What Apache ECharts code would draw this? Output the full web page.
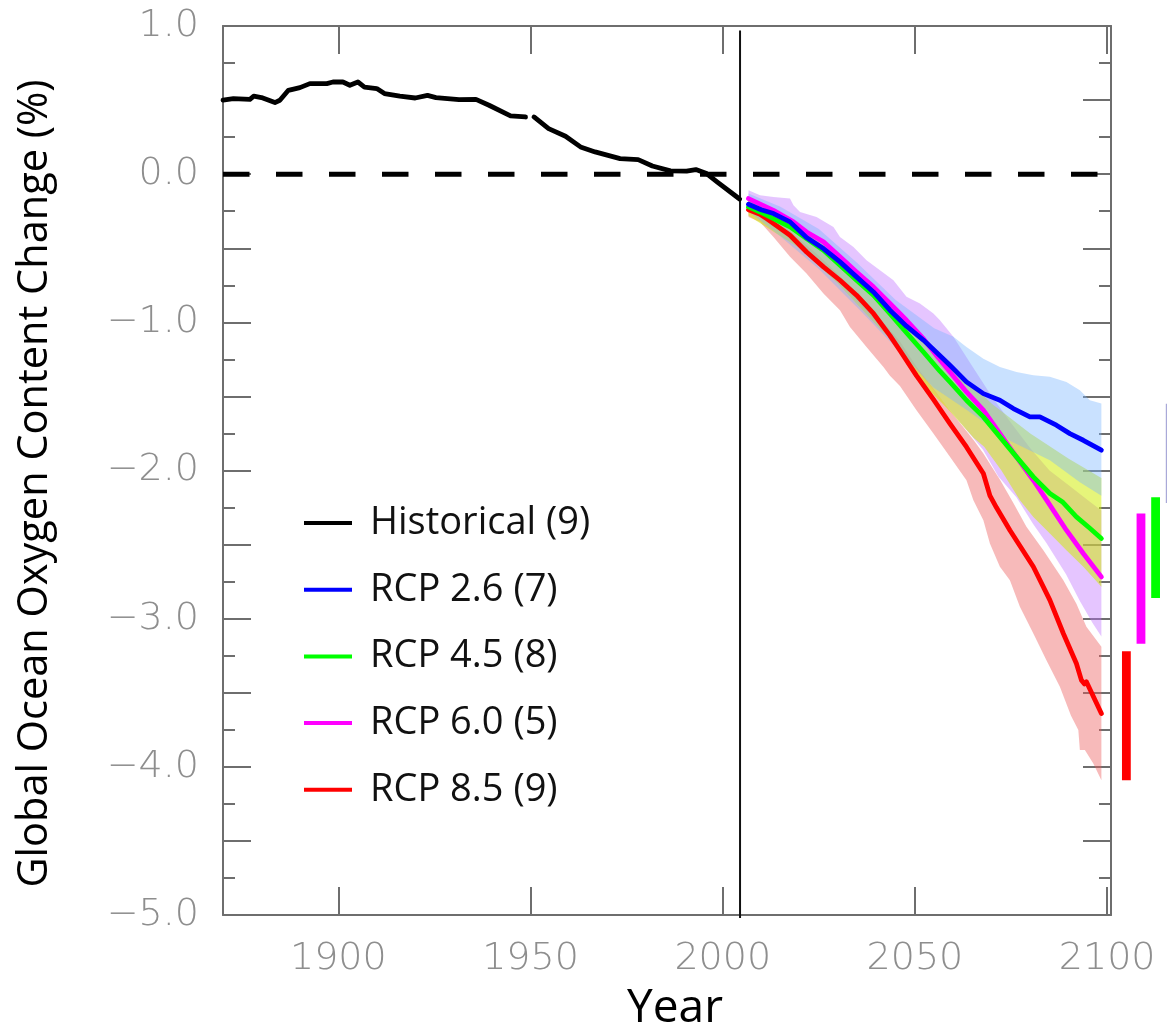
<!DOCTYPE html>
<html>
<head>
<meta charset="utf-8">
<title>Global Ocean Oxygen Content Change</title>
<script src="https://cdn.jsdelivr.net/npm/echarts@6/dist/echarts.min.js"></script>
<style>
  html, body { margin: 0; padding: 0; background: #ffffff; }
  #chart { width: 1167px; height: 1031px; }
</style>
</head>
<body>
<div id="chart"></div>
<script>
// ---- tick labels and legend entries ----
const yearTicks = [1900, 1950, 2000, 2050, 2100];
const legendNames = ['Historical (9)', 'RCP 2.6 (7)', 'RCP 4.5 (8)', 'RCP 6.0 (5)', 'RCP 8.5 (9)'];
const dividerYear = 2004.5;

// ---- multi-model mean, % change in global ocean O2 content ----
const historical = [
  [1870, 0.50], [1872.7, 0.51], [1877, 0.505], [1878, 0.526], [1880, 0.517], [1883.5, 0.483],
  [1884.8, 0.499], [1887, 0.566], [1890, 0.584], [1892.6, 0.611], [1897, 0.611], [1898.6, 0.622],
  [1901.2, 0.622], [1903, 0.60], [1905.1, 0.622], [1906.8, 0.588], [1910, 0.578], [1912, 0.544],
  [1916, 0.526], [1920, 0.514], [1923.2, 0.532], [1925.4, 0.517], [1931.4, 0.503], [1935.8, 0.505],
  [1939.2, 0.465], [1944.8, 0.393], [1948.7, 0.386], [1949.8, '-'], [1950.9, 0.386], [1954.7, 0.307],
  [1959.1, 0.256], [1963, 0.184], [1966.8, 0.15], [1973.3, 0.105], [1978, 0.098], [1981.7, 0.055],
  [1986.4, 0.022], [1990.6, 0.02], [1993, 0.031], [1995.8, 0.004], [1998.6, -0.053], [2003.7, -0.154],
  [2004.4, -0.168]
];
const rcp26 = [
  [2006.7, -0.203], [2010, -0.24], [2013.2, -0.266], [2017.5, -0.322], [2021.8, -0.428], [2026.2, -0.502],
  [2030.5, -0.592], [2034.8, -0.693], [2039.2, -0.795], [2043.5, -0.918], [2047.8, -1.026], [2052.2, -1.12],
  [2055.5, -1.2], [2059.1, -1.29], [2063.4, -1.402], [2067.8, -1.481], [2072.1, -1.526], [2075.6, -1.582],
  [2079.9, -1.638], [2082.5, -1.638], [2086.8, -1.694], [2090.3, -1.751], [2093.8, -1.796], [2098.5, -1.863]
];
const rcp45 = [
  [2006.7, -0.221], [2009.7, -0.255], [2013.2, -0.3], [2017.5, -0.356], [2021.8, -0.435], [2026.2, -0.514],
  [2030.5, -0.615], [2034.8, -0.716], [2039.2, -0.817], [2043.5, -0.941], [2047.8, -1.07], [2052.2, -1.2],
  [2056.5, -1.33], [2059.1, -1.402], [2063.4, -1.526], [2067.8, -1.638], [2072.1, -1.773], [2076.4, -1.908],
  [2080.8, -2.043], [2085.1, -2.155], [2088.5, -2.215], [2092, -2.313], [2095.5, -2.39], [2098.5, -2.459]
];
const rcp60 = [
  [2006.7, -0.165], [2013.2, -0.244], [2018.4, -0.322], [2021.8, -0.39], [2026.2, -0.457], [2030.5, -0.558],
  [2034.8, -0.66], [2039.2, -0.761], [2043.5, -0.873], [2047.8, -0.986], [2052.2, -1.11], [2055.5, -1.22],
  [2059.1, -1.335], [2063.4, -1.47], [2067.8, -1.593], [2072.1, -1.751], [2076.4, -1.908], [2080.8, -2.066],
  [2084, -2.19], [2089.4, -2.403], [2093.8, -2.56], [2098.5, -2.718]
];
const rcp85 = [
  [2006.7, -0.24], [2009.7, -0.27], [2011.4, -0.3], [2017.5, -0.412], [2021.8, -0.525], [2026.2, -0.626],
  [2030.5, -0.716], [2034.8, -0.817], [2039.2, -0.94], [2043.5, -1.09], [2046.1, -1.19], [2050.4, -1.36],
  [2054.8, -1.52], [2059.1, -1.683], [2063.4, -1.841], [2067.8, -2.02], [2069.5, -2.17], [2071.2, -2.25],
  [2074.7, -2.403], [2080.8, -2.65], [2085.1, -2.875], [2088.6, -3.1], [2092, -3.303], [2093.3, -3.415],
  [2094.1, -3.44], [2094.6, -3.426], [2098.5, -3.64]
];

// ---- model spread (upper / lower envelope) ----
const rcp26Upper = [
  [2006.7, -0.13], [2015, -0.22], [2025, -0.37], [2035, -0.6], [2045, -0.85], [2055, -1.04], [2060, -1.098],
  [2063.4, -1.166], [2067.8, -1.245], [2072.1, -1.301], [2076.4, -1.335], [2080.8, -1.357], [2085.1, -1.368],
  [2089.4, -1.402], [2092.9, -1.458], [2095.5, -1.526], [2098.5, -1.548]
];
const rcp26Lower = [
  [2006.7, -0.25], [2015, -0.42], [2025, -0.64], [2035, -0.9], [2045, -1.17], [2054.8, -1.44], [2063.4, -1.59],
  [2072.1, -1.75], [2074.7, -1.8], [2085.1, -1.93], [2092.9, -2.08], [2098.5, -2.17]
];
const rcp45Upper = [
  [2006.7, -0.15], [2020, -0.35], [2030, -0.55], [2040, -0.8], [2050, -1.05], [2060, -1.3], [2070, -1.55],
  [2080, -1.75], [2090, -1.92], [2098.5, -2.05]
];
const rcp45Lower = [
  [2006.7, -0.28], [2020, -0.5], [2030, -0.74], [2040, -1.02], [2046.1, -1.18], [2050.4, -1.37], [2059.1, -1.6],
  [2065.3, -1.78], [2068, -1.84], [2072.5, -2.0], [2077.3, -2.2], [2080.8, -2.313], [2085.1, -2.425],
  [2089.4, -2.538], [2093.8, -2.65], [2098.5, -2.785]
];
const rcp60Upper = [
  [2006.7, -0.109], [2009.7, -0.142], [2013.2, -0.154], [2017.5, -0.165], [2018.4, -0.21], [2020.1, -0.255],
  [2024.4, -0.289], [2028.8, -0.356], [2030.5, -0.424], [2034, -0.491], [2037.4, -0.581], [2040.9, -0.648],
  [2044.4, -0.716], [2047.8, -0.828], [2051.3, -0.873], [2054.8, -0.941], [2056.5, -0.986], [2060, -1.098],
  [2065, -1.3], [2070, -1.5], [2075, -1.68], [2080, -1.85], [2085, -2.0], [2090, -2.1], [2095, -2.2], [2098.5, -2.27]
];
const rcp60Lower = [
  [2006.7, -0.24], [2020, -0.48], [2030, -0.72], [2040, -1.0], [2050, -1.3], [2060, -1.62], [2067.7, -1.86],
  [2071.7, -2.04], [2076.4, -2.18], [2080.7, -2.36], [2084.2, -2.49], [2089.3, -2.7], [2092.9, -2.88],
  [2096.2, -3.03], [2098.5, -3.12]
];
const rcp85Upper = [
  [2006.7, -0.17], [2015, -0.33], [2025, -0.55], [2035, -0.8], [2046.1, -1.13], [2050.4, -1.3],
  [2059.1, -1.593], [2065.3, -1.795], [2067.8, -1.886], [2072.2, -2.066], [2075.6, -2.22], [2079, -2.38],
  [2083.4, -2.538], [2088.6, -2.74], [2092, -2.9], [2094.6, -3.055], [2098.5, -3.19]
];
const rcp85Lower = [
  [2006.7, -0.289], [2009.7, -0.322], [2013.2, -0.424], [2017.5, -0.558], [2021.8, -0.671], [2026.2, -0.806],
  [2030.5, -0.918], [2033.1, -1.031], [2037.4, -1.166], [2041.8, -1.301], [2043.5, -1.36], [2046.1, -1.43],
  [2050.4, -1.593], [2054.8, -1.751], [2059.1, -1.908], [2063.4, -2.066], [2065.2, -2.2], [2067.8, -2.335],
  [2069.5, -2.493], [2072.1, -2.65], [2074.7, -2.74], [2077.3, -2.92], [2080.8, -3.1], [2084.2, -3.28],
  [2087.7, -3.46], [2090.6, -3.655], [2092.5, -3.752], [2092.9, -3.887], [2094.2, -3.887], [2096.4, -3.977],
  [2098.5, -4.09]
];

// ---- end-of-century ranges shown beside the frame [top, bottom] ----
const range85 = [-3.22, -4.09];
const range60 = [-2.29, -3.17];
const range45 = [-2.18, -2.86];
const range26 = [-1.55, -2.22];

// ---- styling ----
const axisGray = '#6e6e6e';
const tickLabelStyle = { fontFamily: 'DejaVu Sans', fontWeight: 200, fontSize: 38, color: '#8e8e8e' };
const lineColors = { hist: '#000000', r26: '#0000ff', r45: '#00ff00', r60: '#ff00ff', r85: '#ff0000' };

function bandSeries(upper, lower, fill) {
  return {
    type: 'custom',
    silent: true,
    z: 1,
    data: [[upper[0][0], upper[0][1]]],
    renderItem: function (params, api) {
      const pts = upper.map(p => api.coord(p))
        .concat(lower.slice().reverse().map(p => api.coord(p)));
      return { type: 'polygon', shape: { points: pts }, style: { fill: fill } };
    }
  };
}

function meanLine(name, data, color, z) {
  return {
    name: name,
    type: 'line',
    data: data,
    symbol: 'none',
    showSymbol: false,
    z: z,
    lineStyle: { color: color, width: 4.8, join: 'round', cap: 'round' },
    itemStyle: { color: color }
  };
}

const rangeSets = [range85, range60, range45, range26];
const rangeFills = ['#ff0000', '#ff00ff', '#00ff00', '#a9a9d8'];

function yTickFormatter(v) {
  const r = Math.round(v);
  if (Math.abs(v - r) > 1e-6) return '';
  return (r < 0 ? '\u2212' : '') + Math.abs(r).toFixed(1);
}

const chart = echarts.init(document.getElementById('chart'), null, { renderer: 'canvas' });

chart.setOption({
  animation: false,
  backgroundColor: '#ffffff',
  grid: { left: 223, right: 56, top: 26, bottom: 116, containLabel: false, outerBoundsMode: 'none' },
  legend: {
    orient: 'vertical',
    left: 304,
    top: 501,
    padding: 0,
    icon: 'rect',
    itemWidth: 48,
    itemHeight: 4,
    itemGap: 22.7,
    selectedMode: false,
    data: legendNames,
    textStyle: { fontFamily: 'Open Sans', fontSize: 38, color: '#111111', lineHeight: 44, padding: [0, 0, 0, 13] }
  },
  xAxis: [
    {
      type: 'value', position: 'bottom', min: 1870, max: 2101,
      splitLine: { show: false },
      axisLine: { show: true, onZero: false, lineStyle: { color: axisGray, width: 2 } },
      axisTick: { show: true, inside: true, length: 28, customValues: yearTicks, lineStyle: { color: axisGray, width: 2 } },
      axisLabel: Object.assign({ customValues: yearTicks, margin: 25, formatter: v => String(v) }, tickLabelStyle),
      name: 'Year', nameLocation: 'middle', nameGap: 71,
      nameTextStyle: { fontFamily: 'Open Sans', fontSize: 46, color: '#000000', padding: [0, 0, 0, 16] }
    },
    {
      type: 'value', position: 'top', min: 1870, max: 2101,
      splitLine: { show: false },
      axisLine: { show: true, onZero: false, lineStyle: { color: axisGray, width: 2 } },
      axisTick: { show: true, inside: true, length: 28, customValues: yearTicks, lineStyle: { color: axisGray, width: 2 } },
      axisLabel: { show: false }
    }
  ],
  yAxis: [
    {
      type: 'value', position: 'left', min: -5, max: 1, interval: 0.5,
      splitLine: { show: false },
      axisLine: { show: true, onZero: false, lineStyle: { color: axisGray, width: 2 } },
      axisTick: { show: true, inside: true, length: 28, lineStyle: { color: axisGray, width: 2 } },
      minorTick: { show: true, splitNumber: 2, length: 12, lineStyle: { color: axisGray, width: 2 } },
      axisLabel: Object.assign({ margin: 24, formatter: yTickFormatter }, tickLabelStyle),
      name: 'Global Ocean Oxygen Content Change (%)', nameLocation: 'middle', nameRotate: 90, nameGap: 167,
      nameTextStyle: { fontFamily: 'Open Sans', fontSize: 41.5, color: '#000000', padding: [0, 26, 0, 0] }
    },
    {
      type: 'value', position: 'right', min: -5, max: 1, interval: 0.5,
      splitLine: { show: false },
      axisLine: { show: true, onZero: false, lineStyle: { color: axisGray, width: 2 } },
      axisTick: { show: true, inside: true, length: 28, lineStyle: { color: axisGray, width: 2 } },
      minorTick: { show: true, splitNumber: 2, length: 12, lineStyle: { color: axisGray, width: 2 } },
      axisLabel: { show: false }
    }
  ],
  series: [
    // spread envelopes
    bandSeries(rcp85Upper, rcp85Lower, 'rgba(235, 90, 90, 0.42)'),
    bandSeries(rcp60Upper, rcp60Lower, 'rgba(190, 110, 255, 0.40)'),
    bandSeries(rcp45Upper, rcp45Lower, 'rgba(208, 236, 0, 0.52)'),
    bandSeries(rcp26Upper, rcp26Lower, 'rgba(120, 180, 255, 0.40)'),
    // zero reference
    {
      type: 'line', silent: true, symbol: 'none', z: 3,
      data: [[1870, 0], [2101, 0]],
      lineStyle: { color: '#000000', width: 5, type: [26.5, 26.5] }
    },
    // historical / scenario divider
    {
      type: 'line', silent: true, symbol: 'none', z: 3, clip: false,
      data: [[dividerYear, 0.97], [dividerYear, -5.02]],
      lineStyle: { color: '#111111', width: 2 }
    },
    meanLine(legendNames[0], historical, lineColors.hist, 5),
    meanLine(legendNames[4], rcp85, lineColors.r85, 5),
    meanLine(legendNames[3], rcp60, lineColors.r60, 6),
    meanLine(legendNames[2], rcp45, lineColors.r45, 7),
    meanLine(legendNames[1], rcp26, lineColors.r26, 8),
    // end-of-century ranges drawn just outside the frame
    {
      type: 'custom', silent: true, clip: false, z: 4,
      data: rangeSets.map(r => [r[0], r[1]]),
      renderItem: function (params, api) {
        const i = params.dataIndex;
        const xYear = 2105 + i * 3.8;
        const top = api.coord([xYear, rangeSets[i][0]]);
        const bot = api.coord([xYear, rangeSets[i][1]]);
        return {
          type: 'rect',
          shape: { x: top[0] - 4.4, y: top[1], width: 8.8, height: bot[1] - top[1] },
          style: { fill: rangeFills[i] }
        };
      }
    }
  ]
});
</script>
</body>
</html>
